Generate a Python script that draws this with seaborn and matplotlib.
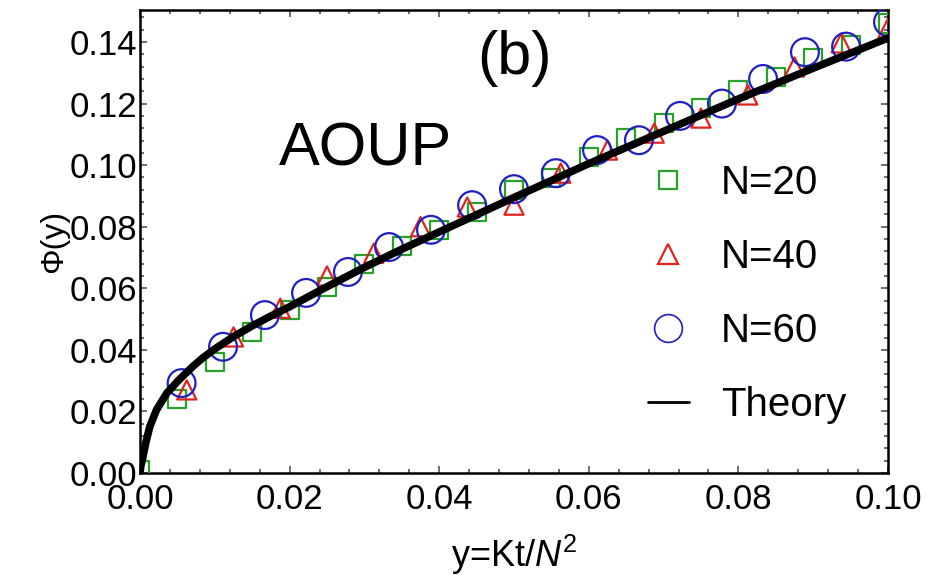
import matplotlib
matplotlib.use("Agg")
import matplotlib.pyplot as plt
from matplotlib.lines import Line2D
import matplotlib.ticker as ticker
import seaborn as sns

# ---- data ----
x_n20 = [0.0, 0.005, 0.01, 0.015, 0.02, 0.025, 0.03, 0.035, 0.04, 0.045, 0.05,
         0.055, 0.06, 0.065, 0.07, 0.075, 0.08, 0.085, 0.09, 0.095, 0.1]
phi_n20 = [0.001, 0.024, 0.036, 0.0458, 0.053, 0.0604, 0.068, 0.0737, 0.079, 0.0848, 0.092,
           0.0958, 0.1026, 0.1088, 0.1137, 0.1185, 0.1244, 0.1286, 0.1348, 0.139, 0.146]

x_n40 = [0.00625, 0.0125, 0.01875, 0.025, 0.03125, 0.0375, 0.04375, 0.05,
         0.05625, 0.0625, 0.06875, 0.075, 0.08125, 0.0875, 0.09375, 0.1]
phi_n40 = [0.027, 0.0442, 0.0535, 0.064, 0.0714, 0.080, 0.0864, 0.087,
           0.0974, 0.1049, 0.1104, 0.1153, 0.1228, 0.1319, 0.1397, 0.1445]

x_n60 = [0.00556, 0.0111, 0.0167, 0.0222, 0.0278, 0.0333, 0.0389, 0.0444, 0.05,
         0.0556, 0.0611, 0.0667, 0.0722, 0.0778, 0.0833, 0.0889, 0.0944, 0.1]
phi_n60 = [0.0292, 0.041, 0.0513, 0.0585, 0.0653, 0.0734, 0.079, 0.087, 0.0922,
           0.0974, 0.1049, 0.1081, 0.116, 0.120, 0.128, 0.1367, 0.1385, 0.1465]

x_theory = [0.0, 0.0001, 0.0003, 0.00076, 0.0013, 0.0022, 0.0036, 0.0051, 0.0071, 0.0084,
            0.01, 0.0125, 0.015, 0.0175, 0.02, 0.025, 0.03, 0.035, 0.04,
            0.05, 0.06, 0.07, 0.08, 0.09, 0.1]
phi_theory = [0.0, 0.0022, 0.0042, 0.0097, 0.015, 0.0205, 0.026, 0.030, 0.0347, 0.0374,
              0.0403, 0.0443, 0.0478, 0.051, 0.054, 0.0605, 0.0668, 0.0727, 0.0783,
              0.0895, 0.1005, 0.111, 0.1215, 0.1315, 0.1413]

labels = ["N=20", "N=40", "N=60", "Theory"]
c_green, c_red, c_blue = "#27a127", "#e0231d", "#1f1fc4"

sns.set_style("ticks")
plt.rcParams["font.family"] = ["Liberation Sans", "DejaVu Sans"]
plt.rcParams["mathtext.fontset"] = "custom"
plt.rcParams["mathtext.rm"] = "Liberation Sans"
plt.rcParams["mathtext.it"] = "Liberation Sans:italic"
for key in ["text.color", "axes.labelcolor", "xtick.labelcolor", "ytick.labelcolor"]:
    plt.rcParams[key] = "black"

fig = plt.figure(figsize=(9.31, 5.75), dpi=100)
ax = fig.add_axes([0.1504, 0.1774, 0.8034, 0.8052])

sns.scatterplot(x=x_n20, y=phi_n20, ax=ax, marker="s", s=170, fc="none", ec=c_green,
                linewidth=1.6, zorder=3)
sns.scatterplot(x=x_n40, y=phi_n40, ax=ax, marker="^", s=190, fc="none", ec=c_red,
                linewidth=1.6, zorder=3)
sns.scatterplot(x=x_n60, y=phi_n60, ax=ax, marker="o", s=400, fc="none", ec=c_blue,
                linewidth=1.6, zorder=3)
sns.lineplot(x=x_theory, y=phi_theory, ax=ax, color="black", linewidth=5.5, sort=False,
             zorder=4)

ax.set_xlim(0, 0.1)
ax.set_ylim(0, 0.1504)
ax.xaxis.set_major_locator(ticker.MultipleLocator(0.02))
ax.xaxis.set_minor_locator(ticker.MultipleLocator(0.004))
ax.yaxis.set_major_locator(ticker.MultipleLocator(0.02))
ax.yaxis.set_minor_locator(ticker.MultipleLocator(0.004))
ax.xaxis.set_major_formatter(ticker.FormatStrFormatter("%.2f"))
ax.yaxis.set_major_formatter(ticker.FormatStrFormatter("%.2f"))
ax.tick_params(which="both", direction="in", top=True, right=True, width=1.2, color="#555555")
ax.tick_params(which="major", length=5, labelsize=25)
ax.tick_params(which="minor", length=3)
ax.tick_params(axis="x", pad=7)
ax.tick_params(axis="y", pad=2)
for sp in ax.spines.values():
    sp.set_linewidth(1.8)
    sp.set_color("black")
    sp.set_visible(True)

ax.set_xlabel("y=Kt/$N^2$", fontsize=26, labelpad=12)
ax.set_ylabel("Φ(y)", fontsize=23, labelpad=0)

ax.text(0.0501, 0.1345, "(b)", fontsize=44, ha="center", va="center")
ax.text(0.0302, 0.105, "AOUP", fontsize=44, ha="center", va="center")

handles = [
    Line2D([], [], ls="none", marker="s", ms=13, mfc="none", mec=c_green, mew=1.6),
    Line2D([], [], ls="none", marker="^", ms=14, mfc="none", mec=c_red, mew=1.6),
    Line2D([], [], ls="none", marker="o", ms=20, mfc="none", mec=c_blue, mew=1.2),
    Line2D([], [], color="black", lw=2),
]
ax.legend(handles, labels, loc="upper left", bbox_to_anchor=(0.658, 0.702), frameon=False,
          fontsize=29, handlelength=1.0, handletextpad=0.8, labelspacing=0.89,
          borderaxespad=0)

fig.savefig("out.png", dpi=100)
